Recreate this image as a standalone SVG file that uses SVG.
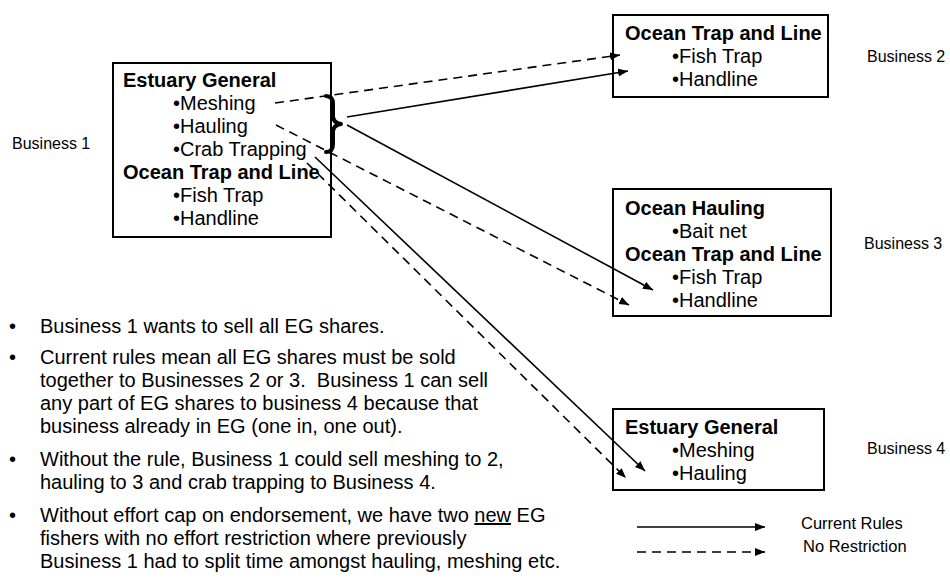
<svg xmlns="http://www.w3.org/2000/svg" width="950" height="578" viewBox="0 0 950 578">
<style>
text{font-family:"Liberation Sans",Arial,sans-serif;fill:#000}
.b{font-weight:bold;font-size:20px}
.t{font-size:20px}
.lab{font-size:16px}
.leg{font-size:16.5px}
.box{fill:#fff;stroke:#000;stroke-width:2}
.sol{stroke:#000;stroke-width:1.6;fill:none}
.dash{stroke:#000;stroke-width:1.6;fill:none;stroke-dasharray:9 6}
.brace{stroke:#000;stroke-width:4;fill:none;stroke-linecap:round;stroke-linejoin:round}
</style>
<defs>
<marker id="ah" markerUnits="userSpaceOnUse" markerWidth="11" markerHeight="9" refX="10" refY="4" orient="auto">
<path d="M0,0 L10,4 L0,8 Z" fill="#000"/>
</marker>
</defs>
<rect width="950" height="578" fill="#fff"/>
<g id="business1">
<rect class="box" x="113" y="63" width="218" height="174"/>
<text class="b" x="123" y="87">Estuary General</text>
<text class="t" x="173" y="110">•Meshing</text>
<text class="t" x="173" y="133">•Hauling</text>
<text class="t" x="173" y="156">•Crab Trapping</text>
<text class="b" x="123" y="179">Ocean Trap and Line</text>
<text class="t" x="173" y="202">•Fish Trap</text>
<text class="t" x="173" y="225">•Handline</text>
<text class="lab" x="12" y="149">Business 1</text>
</g>
<g id="business2">
<rect class="box" x="613" y="15" width="215" height="82"/>
<text class="b" x="625" y="40">Ocean Trap and Line</text>
<text class="t" x="672" y="63">•Fish Trap</text>
<text class="t" x="672" y="86">•Handline</text>
<text class="lab" x="867" y="62">Business 2</text>
</g>
<g id="business3">
<rect class="box" x="613" y="189" width="218" height="127"/>
<text class="b" x="625" y="215">Ocean Hauling</text>
<text class="t" x="672" y="238">•Bait net</text>
<text class="b" x="625" y="261">Ocean Trap and Line</text>
<text class="t" x="672" y="284">•Fish Trap</text>
<text class="t" x="672" y="307">•Handline</text>
<text class="lab" x="864" y="249">Business 3</text>
</g>
<g id="business4">
<rect class="box" x="613" y="409" width="211" height="81"/>
<text class="b" x="625" y="434">Estuary General</text>
<text class="t" x="672" y="457">•Meshing</text>
<text class="t" x="672" y="480">•Hauling</text>
<text class="lab" x="867" y="454">Business 4</text>
</g>
<g id="connectors">
<path class="brace" d="M326,96 Q333,96 333,104 L333,116 Q333,123 341,124 Q333,125 333,132 L333,144 Q333,152 326,152"/>
<line class="dash" x1="275" y1="103" x2="620" y2="55" marker-end="url(#ah)"/>
<line class="sol" x1="347" y1="117" x2="628" y2="71" marker-end="url(#ah)"/>
<line class="sol" x1="347" y1="125" x2="653" y2="290" marker-end="url(#ah)"/>
<line class="dash" x1="276" y1="125" x2="629" y2="305" marker-end="url(#ah)"/>
<line class="sol" x1="315" y1="157" x2="645" y2="471" marker-end="url(#ah)"/>
<line class="dash" x1="307" y1="163" x2="626" y2="478" marker-end="url(#ah)"/>
</g>
<g id="legend">
<line class="sol" x1="637" y1="527" x2="765" y2="527" marker-end="url(#ah)"/>
<line class="dash" x1="637" y1="552" x2="765" y2="552" marker-end="url(#ah)"/>
<text class="leg" x="801" y="529">Current Rules</text>
<text class="leg" x="803" y="552">No Restriction</text>
</g>
<g id="notes">
<text class="t" x="9" y="333">•</text>
<text class="t" x="40" y="333">Business 1 wants to sell all EG shares.</text>
<text class="t" x="9" y="364">•</text>
<text class="t" x="40" y="364">Current rules mean all EG shares must be sold</text>
<text class="t" x="40" y="387" style="white-space:pre">together to Businesses 2 or 3.  Business 1 can sell</text>
<text class="t" x="40" y="410">any part of EG shares to business 4 because that</text>
<text class="t" x="40" y="433">business already in EG (one in, one out).</text>
<text class="t" x="9" y="466">•</text>
<text class="t" x="40" y="466">Without the rule, Business 1 could sell meshing to 2,</text>
<text class="t" x="40" y="489">hauling to 3 and crab trapping to Business 4.</text>
<text class="t" x="9" y="522">•</text>
<text class="t" x="40" y="522">Without effort cap on endorsement, we have two <tspan text-decoration="underline">new</tspan> EG</text>
<text class="t" x="40" y="545">fishers with no effort restriction where previously</text>
<text class="t" x="40" y="568">Business 1 had to split time amongst hauling, meshing etc.</text>
</g>
</svg>
